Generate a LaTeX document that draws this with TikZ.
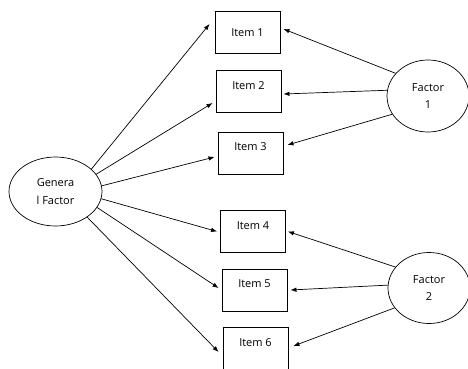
\documentclass[tikz,border=0pt]{standalone}
\usepackage{fontspec}
\setmainfont{Open Sans}
\usetikzlibrary{arrows.meta,shapes.geometric}

\begin{document}
\begin{tikzpicture}[x=1pt,y=-1pt,
        item/.style={draw, line width=0.9pt, minimum width=65pt, minimum height=42pt, inner sep=0pt, font=\fontsize{11}{13}\selectfont},
        lowtext/.style={text height=8pt, text depth=13pt},
        factor/.style={draw, ellipse, line width=0.7pt, inner sep=0pt, align=center, font=\fontsize{11}{17.5}\selectfont},
        arr/.style={-{Latex[length=6pt,width=4.5pt]}, line width=0.7pt}]
            \useasboundingbox (0,0) rectangle (468,369);
            \node[item] (i1) at (247.5,32.5) {Item 1};
            \node[item,lowtext] (i2) at (248.5,91.5) {Item 2};
            \node[item,lowtext] (i3) at (250.5,153) {Item 3};
            \node[item,lowtext] (i4) at (253,231.5) {Item 4};
            \node[item,lowtext] (i5) at (254.5,290) {Item 5};
            \node[item,lowtext] (i6) at (255.5,348.5) {Item 6};
            \node[factor, minimum width=93pt, minimum height=69pt] (gen) at (55.5,191.5) {Genera\\l Factor};
            \node[factor, minimum width=82pt, minimum height=72pt] (f1) at (428,96) {Factor\\1};
            \node[factor, minimum width=82pt, minimum height=71pt] (f2) at (429,288) {Factor\\2};
            \draw[arr] (gen.32) -- ([xshift=-5pt,yshift=8.5pt]i1.west);
            \draw[arr] (gen.23) -- ([xshift=-3pt,yshift=-11.5pt]i2.west);
            \draw[arr] (gen.7) -- ([xshift=-3pt,yshift=-4pt]i3.west);
            \draw[arr] (gen.-9) -- ([xshift=-3pt]i4.west);
            \draw[arr] (gen.-21) -- ([xshift=-3pt,yshift=2pt]i5.west);
            \draw[arr] (gen.-39) -- ([xshift=-4pt,yshift=-3.5pt]i6.west);
            \draw[arr] (f1.145) -- ([xshift=3pt,yshift=3.5pt]i1.east);
            \draw[arr] (f1.172) -- ([xshift=2pt,yshift=-2.5pt]i2.east);
            \draw[arr] (f1.207) -- ([xshift=4pt,yshift=8pt]i3.east);
            \draw[arr] (f2.148) -- ([xshift=2pt]i4.east);
            \draw[arr] (f2.176) -- ([xshift=3pt]i5.east);
            \draw[arr] (f2.210) -- ([xshift=5pt,yshift=2.5pt]i6.east);
        \end{tikzpicture}
\end{document}
